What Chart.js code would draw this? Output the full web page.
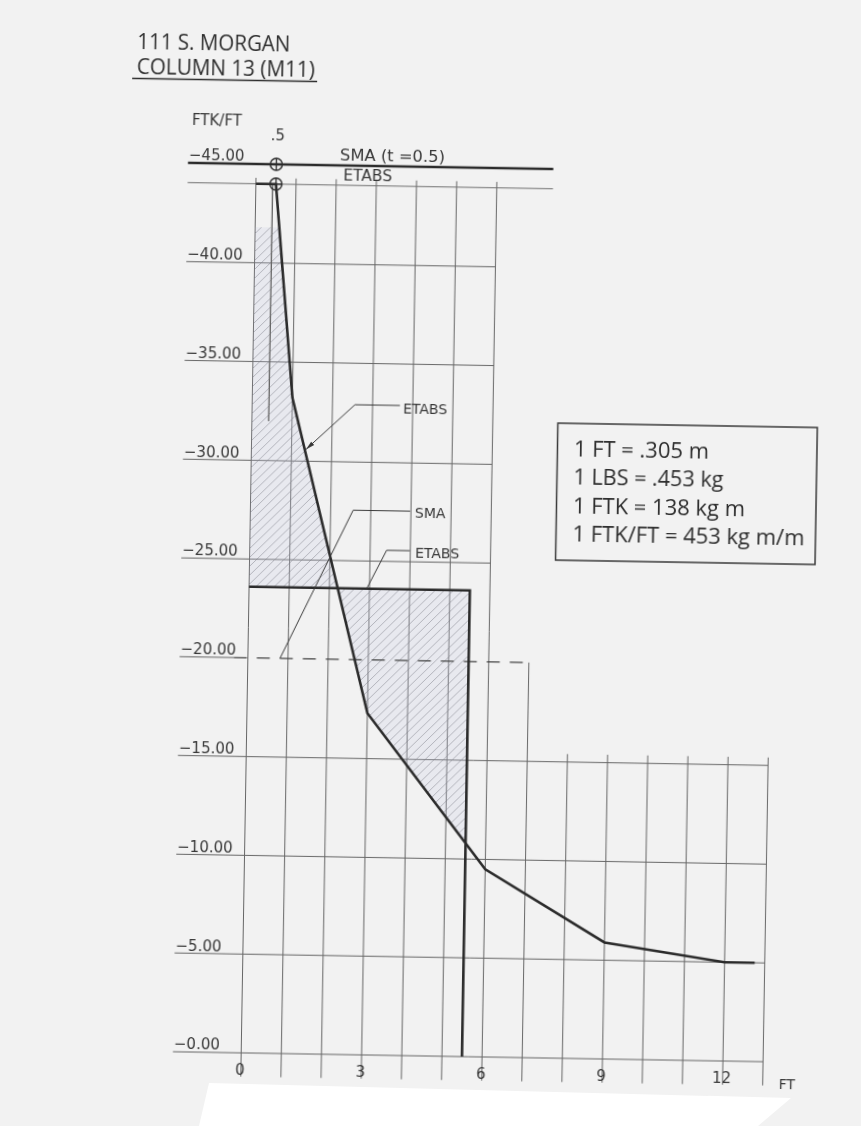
<!DOCTYPE html>
<html>
<head>
<meta charset="utf-8">
<title>111 S. MORGAN – COLUMN 13 (M11)</title>
<script src="https://cdn.jsdelivr.net/npm/chart.js@4.4.1/dist/chart.umd.min.js"></script>
<style>
  html, body { margin: 0; padding: 0; width: 861px; height: 1126px; overflow: hidden; background: #f2f2f2; }
  #sheet { position: absolute; left: 0; top: 0; display: block;
           transform: rotate(0.97deg); transform-origin: 430.5px 563px; }
  #strip { position: absolute; left: 0; top: 0; width: 861px; height: 1126px; background: #ffffff;
           clip-path: polygon(209px 1083px, 791px 1098px, 758px 1126px, 199px 1126px); }
</style>
</head>
<body>
<canvas id="sheet" width="861" height="1126"></canvas>
<div id="strip"></div>
<script>
// ---- axis ticks ----
const yTicks = [-45, -40, -35, -30, -25, -20, -15, -10, -5, 0];
const yTickLabels = ['−45.00', '−40.00', '−35.00', '−30.00', '−25.00', '−20.00', '−15.00', '−10.00', '−5.00', '−0.00'];
const xTicks = [0, 3, 6, 9, 12];
const xTickLabels = ['0', '3', '6', '9', '12'];

// ---- ETABS moment diagram (FT, FTK/FT) ----
const etabsX = [0, 0.5, 1, 3, 6, 9, 12, 12.75];
const etabsY = [-44, -44, -33.2, -17.3, -9.5, -5.9, -5.0, -5.0];

// ---- ETABS capacity outline ----
const capX = [0, 5.5, 5.5];
const capY = [-23.6, -23.6, 0];

// ---- SMA (t = 0.5) level and ETABS level at the top ----
const smaTopX = [-1.7, 7.4];
const smaTopY = [-45, -45];
const etabsTopX = [-1.7, 7.4];
const etabsTopY = [-44, -44];

// ---- SMA level (dashed) ----
const smaX = [-0.35, 7];
const smaY = [-20, -20];

// ---- marks at t = .5 ----
const markX = [0.5, 0.5];
const markY = [-45, -44];

// ---- thin drop line under the marks ----
const dropX = [0.42, 0.42];
const dropY = [-44, -32];

// ---- hatched zones ----
const hatchAX = [0, 0.6, 1, 2.21, 0];
const hatchAY = [-41.8, -41.8, -33.2, -23.6, -23.6];
const hatchBX = [2.21, 3, 5.5, 5.5];
const hatchBY = [-23.6, -17.3, -10.8, -23.6];

// ---- legend text ----
const unitLines = ['1 FT = .305 m', '1 LBS = .453 kg', '1 FTK = 138 kg m', '1 FTK/FT = 453 kg m/m'];
const titleLines = ['111 S. MORGAN', 'COLUMN 13 (M11)'];

// ---- grid runs (data units) ----
const hRuns = [
  { vs: [-40, -35, -30, -25], from: -1.7, to: 6 },
  { vs: [-20], from: -1.7, to: -0.35 },
  { vs: [-15, -10, -5, 0], from: -1.7, to: 13 }
];
const vRuns = [
  { xs: [0, 1, 2, 3, 4, 5, 6], from: -44.3, to: 1.2 },
  { xs: [7], from: -20, to: 1.2 },
  { xs: [8, 9, 10, 11, 12, 13], from: -15.4, to: 1.2 }
];

// ---- callouts: label anchor and leader path in data units ----
const callouts = [
  { text: 'ETABS', at: [3.76, -32.52], path: [[3.68, -32.9], [2.56, -32.9], [1.36, -30.6]], arrow: true },
  { text: 'SMA', at: [4.1, -27.25], path: [[3.98, -27.56], [2.56, -27.56], [0.8, -20]], arrow: false },
  { text: 'ETABS', at: [4.12, -25.2], path: [[3.99, -25.56], [3.41, -25.56], [2.93, -23.6]], arrow: false }
];

const INK = '#2b2b2b';
const GRID = '#666666';
const CAD = '"DejaVu Sans", sans-serif';
const TYPE = '"Open Sans", sans-serif';

const xy = (xs, ys) => xs.map((x, i) => ({ x, y: ys[i] }));

const canvas = document.getElementById('sheet');
const mainCtx = canvas.getContext('2d');

function hatch() {
  const n = 9;
  const t = document.createElement('canvas');
  t.width = n; t.height = n;
  const g = t.getContext('2d');
  g.fillStyle = 'rgba(196,202,228,0.22)';
  g.fillRect(0, 0, n, n);
  g.strokeStyle = 'rgba(120,120,130,0.6)';
  g.lineWidth = 0.8;
  g.beginPath();
  g.moveTo(0, n); g.lineTo(n, 0);
  g.moveTo(-2, 2); g.lineTo(2, -2);
  g.moveTo(n - 2, n + 2); g.lineTo(n + 2, n - 2);
  g.stroke();
  return mainCtx.createPattern(t, 'repeat');
}
const hatchFill = hatch();

function text(ctx, str, x, y, font, width, align) {
  ctx.save();
  ctx.font = font;
  ctx.textBaseline = 'alphabetic';
  ctx.textAlign = 'left';
  const natural = ctx.measureText(str).width;
  const k = width ? width / natural : 1;
  const x0 = align === 'center' ? x - natural * k / 2 : x;
  ctx.translate(x0, y);
  ctx.scale(k, 1);
  ctx.fillText(str, 0, 0);
  ctx.restore();
}

const sheetPlugin = {
  id: 'sheet',
  beforeDatasetsDraw(chart) {
    const { ctx } = chart;
    const px = v => chart.scales.x.getPixelForValue(v);
    const py = v => chart.scales.y.getPixelForValue(v);
    ctx.save();
    ctx.strokeStyle = GRID;
    ctx.lineWidth = 1;
    ctx.beginPath();
    hRuns.forEach(r => r.vs.forEach(v => {
      ctx.moveTo(px(r.from), py(v));
      ctx.lineTo(px(r.to), py(v));
    }));
    vRuns.forEach(r => r.xs.forEach(x => {
      ctx.moveTo(px(x), py(r.from));
      ctx.lineTo(px(x), py(r.to));
    }));
    ctx.stroke();
    ctx.restore();
  },
  afterDatasetsDraw(chart) {
    const { ctx } = chart;
    const px = v => chart.scales.x.getPixelForValue(v);
    const py = v => chart.scales.y.getPixelForValue(v);
    ctx.save();
    ctx.fillStyle = '#383838';

    // axis labels
    yTicks.forEach((v, i) => text(ctx, yTickLabels[i], px(-1.68), py(v) - 2.7, '15px ' + CAD));
    xTicks.forEach((v, i) => text(ctx, xTickLabels[i], px(v) - 1, py(0) + 22, '15px ' + CAD, null, 'center'));
    text(ctx, 'FT', px(13.4), py(0) + 26.5, '14px ' + CAD);
    text(ctx, 'FTK/FT', px(-1.62), py(-45) - 38, '15px ' + CAD, 50);
    text(ctx, '.5', px(0.5) + 1, py(-45) - 24.5, '15px ' + CAD, null, 'center');
    text(ctx, 'SMA (t =0.5)', px(2.08), py(-45) - 5.5, '15px ' + CAD, 105);
    text(ctx, 'ETABS', px(2.17), py(-44) - 4.3, '15px ' + CAD, 49);

    // callouts
    ctx.strokeStyle = '#3a3a3a';
    ctx.lineWidth = 1;
    callouts.forEach(c => {
      ctx.beginPath();
      c.path.forEach(([x, v], i) => i ? ctx.lineTo(px(x), py(v)) : ctx.moveTo(px(x), py(v)));
      ctx.stroke();
      if (c.arrow) {
        const [ax, av] = c.path[c.path.length - 2];
        const [bx, bv] = c.path[c.path.length - 1];
        const x1 = px(ax), y1 = py(av), x2 = px(bx), y2 = py(bv);
        const a = Math.atan2(y2 - y1, x2 - x1);
        ctx.beginPath();
        ctx.moveTo(x2, y2);
        ctx.lineTo(x2 - 9 * Math.cos(a) + 2.2 * Math.sin(a), y2 - 9 * Math.sin(a) - 2.2 * Math.cos(a));
        ctx.lineTo(x2 - 9 * Math.cos(a) - 2.2 * Math.sin(a), y2 - 9 * Math.sin(a) + 2.2 * Math.cos(a));
        ctx.closePath();
        ctx.fill();
      }
      text(ctx, c.text, px(c.at[0]), py(c.at[1]), '14px ' + CAD);
    });

    // unit conversion box
    ctx.strokeStyle = '#3a3a3a';
    ctx.lineWidth = 1.5;
    ctx.strokeRect(555.5, 421, 259.5, 137);
    ctx.fillStyle = '#2e2e2e';
    const unitWidths = [135, 150, 172, 232];
    unitLines.forEach((s, i) => text(ctx, s, 572, 453.5 + i * 28.5, '21px ' + TYPE, unitWidths[i]));

    // heading
    text(ctx, titleLines[0], 128.5, 54, '22px ' + TYPE, 153);
    text(ctx, titleLines[1], 128.5, 79, '22px ' + TYPE, 178);
    ctx.strokeStyle = '#2e2e2e';
    ctx.lineWidth = 1.6;
    ctx.beginPath();
    ctx.moveTo(124, 83.5);
    ctx.lineTo(309, 83.5);
    ctx.stroke();
    ctx.restore();
  }
};

const line = (label, xs, ys, extra) => Object.assign({
  label, data: xy(xs, ys), showLine: true, borderColor: INK, borderWidth: 2.6,
  pointRadius: 0, fill: false, clip: false, order: 1
}, extra || {});

const datasets = [
  { label: '⊕', data: xy(markX, markY), showLine: false, pointStyle: 'circle', pointRadius: 6,
    pointBorderWidth: 1.4, pointBorderColor: INK, pointBackgroundColor: 'rgba(0,0,0,0)', clip: false, order: 0 },
  { label: '+', data: xy(markX, markY), showLine: false, pointStyle: 'cross', pointRadius: 6,
    pointBorderWidth: 1.3, pointBorderColor: INK, clip: false, order: 0 },
  line('ETABS', etabsX, etabsY),
  line('ETABS capacity', capX, capY),
  line('SMA (t = 0.5)', smaTopX, smaTopY, { borderWidth: 2.4 }),
  line('ETABS level', etabsTopX, etabsTopY, { borderColor: '#707070', borderWidth: 1 }),
  line('SMA', smaX, smaY, { borderColor: '#444444', borderWidth: 1.2, borderDash: [13, 10] }),
  line('drop', dropX, dropY, { borderColor: GRID, borderWidth: 1 }),
  line('zone A', hatchAX, hatchAY, { fill: 'shape', backgroundColor: hatchFill, borderWidth: 0, order: 5 }),
  line('zone B', hatchBX, hatchBY, { fill: 'shape', backgroundColor: hatchFill, borderWidth: 0, order: 5 })
];

new Chart(canvas, {
  type: 'scatter',
  data: { datasets },
  options: {
    responsive: false,
    animation: false,
    devicePixelRatio: 1,
    events: [],
    layout: { padding: { left: 169.2, right: 49.4, top: 167, bottom: 70 } },
    scales: {
      x: { type: 'linear', min: -2, max: 14, display: false },
      y: { type: 'linear', min: -45, max: 0, reverse: true, display: false }
    },
    elements: {
      point: { radius: 0, hoverRadius: 0 },
      line: { tension: 0, borderCapStyle: 'butt', borderJoinStyle: 'miter' }
    },
    plugins: { legend: { display: false }, tooltip: { enabled: false } }
  },
  plugins: [sheetPlugin]
});
</script>
</body>
</html>
